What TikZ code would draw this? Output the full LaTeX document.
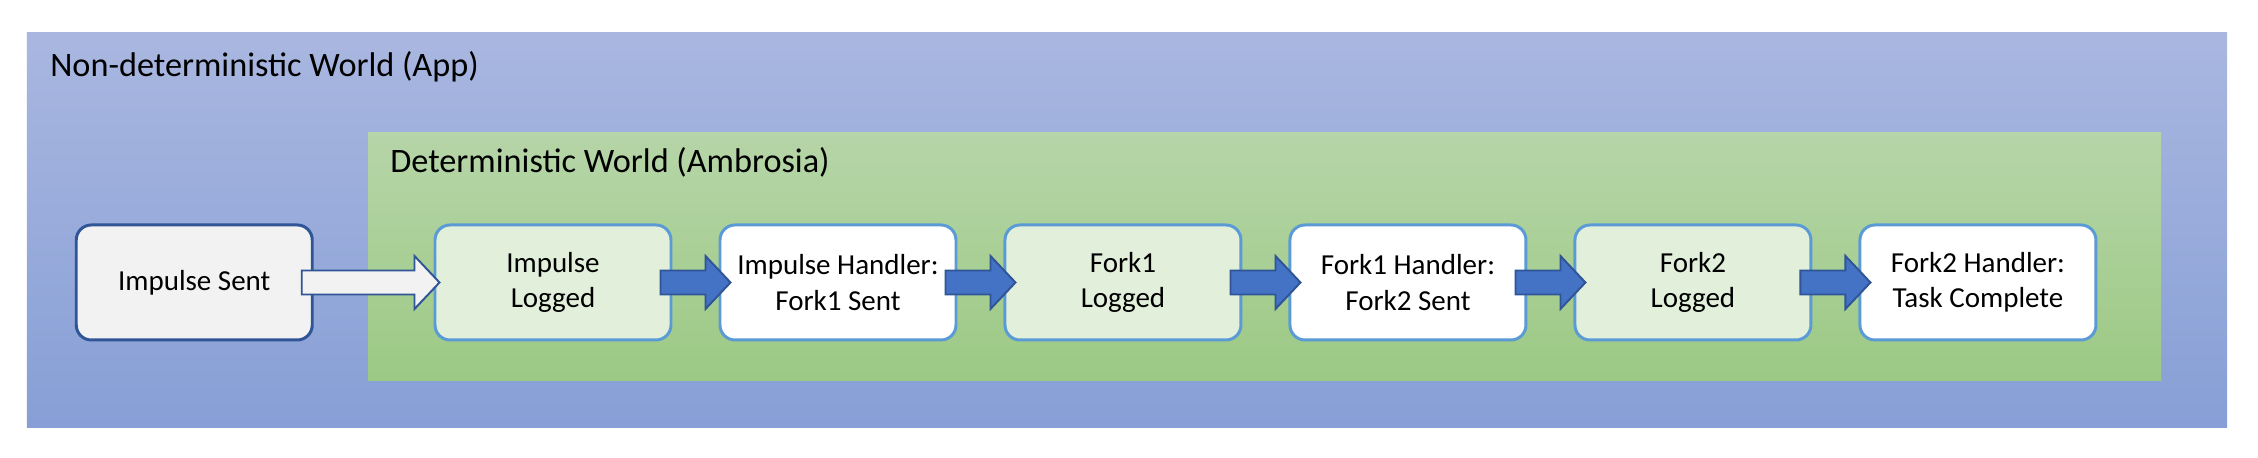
\documentclass[tikz,border=0pt]{standalone}
\usepackage{fontspec}
\setmainfont{Carlito}
\usetikzlibrary{positioning,calc}
\definecolor{AppTop}{HTML}{A9B7E0}
\definecolor{AppBottom}{HTML}{879FD6}
\definecolor{DetTop}{HTML}{B6D5A8}
\definecolor{DetBottom}{HTML}{9CC984}
\definecolor{LogFill}{HTML}{E2EFDA}
\definecolor{SentFill}{HTML}{F2F2F2}
\definecolor{BoxLine}{HTML}{5B9BD5}
\definecolor{ArrowFill}{HTML}{4472C4}
\definecolor{ArrowLine}{HTML}{2F5597}
\tikzset{logbox/.style={draw=BoxLine,fill=LogFill,line width=1.7pt,rounded corners=0.3cm,
        minimum width=4.72cm,minimum height=2.3cm,align=center,inner sep=0,
        font=\fontsize{16.5}{20}\selectfont},
    handlerbox/.style={logbox,fill=white},
    sentbox/.style={logbox,draw=ArrowLine,fill=SentFill},
    worldtitle/.style={anchor=base west,inner sep=0,font=\fontsize{19.5}{23}\selectfont},
    blockarrow/.style={draw=ArrowLine,fill=ArrowFill,line width=1.1pt},
    hollowarrow/.style={blockarrow,fill=SentFill}
}
\newcommand{\blockarrow}[4]
{
% args: (style, from node, to node, inset of the tip)
    \draw [#1] ($(#2.east)+(-0.24,0.24)$) -- ($(#3.west)+(#4-0.5,0.24)$)
        -- ($(#3.west)+(#4-0.5,0.53)$) -- ($(#3.west)+(#4,0)$)
        -- ($(#3.west)+(#4-0.5,-0.53)$) -- ($(#3.west)+(#4-0.5,-0.24)$)
        -- ($(#2.east)+(-0.24,-0.24)$) -- cycle;
}
\begin{document}
\begin{tikzpicture}[node distance=0.92cm]

\useasboundingbox (0,0) rectangle (45.16,9.16);

% the two worlds
\shade [top color=AppTop,bottom color=AppBottom] (0.54,0.6) rectangle (44.54,8.5);
\node (appTitle) [worldtitle] at (1.0,7.62) {Non-deterministic World (App)};

\shade [top color=DetTop,bottom color=DetBottom] (7.36,1.54) rectangle (43.22,6.5);
\node (detTitle) [worldtitle] at (7.8,5.7) {Deterministic World (Ambrosia)};

% the chain of steps
\node (impSent) [sentbox] at (3.885,3.51) {Impulse Sent};
\node (impLog) [logbox] at (11.06,3.51) {Impulse\\Logged};
\node (impHandler) [handlerbox,right=of impLog] {Impulse Handler:\\Fork1 Sent};
\node (forkALog) [logbox,right=of impHandler] {Fork1\\Logged};
\node (forkAHandler) [handlerbox,right=of forkALog] {Fork1 Handler:\\Fork2 Sent};
\node (forkBLog) [logbox,right=of forkAHandler] {Fork2\\Logged};
\node (forkBHandler) [handlerbox,right=of forkBLog] {Fork2 Handler:\\Task Complete};

\blockarrow{hollowarrow}{impSent}{impLog}{0.12}
\foreach \a/\b in {impLog/impHandler,impHandler/forkALog,forkALog/forkAHandler,
                   forkAHandler/forkBLog,forkBLog/forkBHandler}
{
    \blockarrow{blockarrow}{\a}{\b}{0.24}
}

\end{tikzpicture}
\end{document}
